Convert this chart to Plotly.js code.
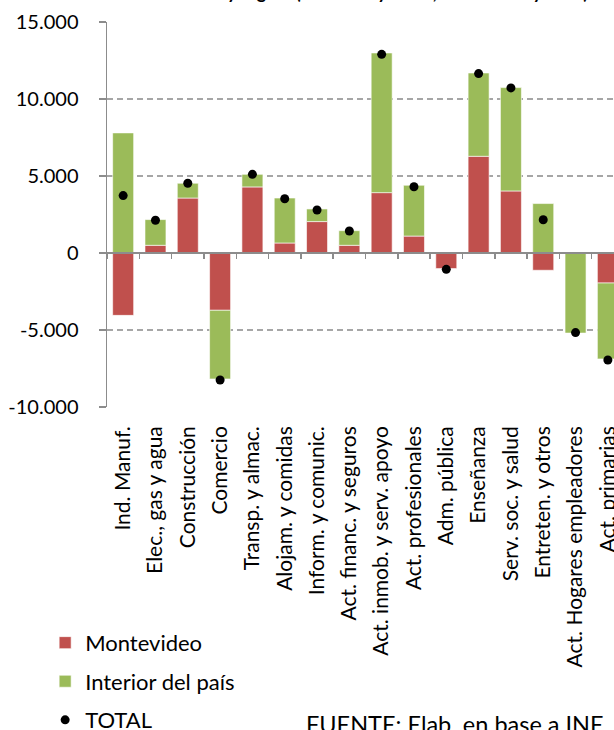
<!DOCTYPE html>
<html>
<head>
<meta charset="utf-8">
<script src="https://cdn.plot.ly/plotly-3.0.1.min.js"></script>
<style>html,body{margin:0;padding:0;background:#fff;}#chart{width:614px;height:730px;}</style>
</head>
<body>
<div id="chart"></div>
<script>
const categories = ["Ind. Manuf.", "Elec., gas y agua", "Construcción", "Comercio", "Transp. y almac.", "Alojam. y comidas", "Inform. y comunic.", "Act. financ. y seguros", "Act. inmob. y serv. apoyo", "Act. profesionales", "Adm. pública", "Enseñanza", "Serv. soc. y salud", "Entreten. y otros", "Act. Hogares empleadores", "Act. primarias"];
const montevideo = [-4050, 500, 3570, -3720, 4290, 650, 2040, 500, 3920, 1100, -1010, 6280, 4030, -1120, 0, -1950];
const interior = [7800, 1670, 960, -4460, 820, 2920, 820, 950, 9070, 3300, 0, 5410, 6710, 3210, -5200, -4930];
const total = [3730, 2130, 4530, -8250, 5110, 3520, 2790, 1430, 12900, 4300, -1060, 11650, 10720, 2160, -5170, -6950];
const yTickVals = [-10000, -5000, 0, 5000, 10000, 15000];
const yTickText = ["-10.000", "-5.000", "0", "5.000", "10.000", "15.000"];
const titleText = "Variación de cotizantes del sector y región (trimestre y 2013, acumulado y total)";
const sourceText = "FUENTE: Elab. en base a INE";

const FONT = "Lato, 'Open Sans', sans-serif";
const RED = "#C0504D", GREEN = "#9BBB59", GRID = "#A6A6A6", AXIS = "#8C8C8C";
const xr = [-0.5, 15.19];

const traces = [
  {type: "bar", name: "Montevideo", x: categories, y: montevideo, marker: {color: RED, line: {color: "rgba(255,255,255,0.6)", width: 1}}, legendgroup: "a", hoverinfo: "skip"},
  {type: "bar", name: "Interior del país", x: categories, y: interior, marker: {color: GREEN, line: {color: "rgba(255,255,255,0.6)", width: 1}}, legendgroup: "b", hoverinfo: "skip"},
  {type: "scatter", mode: "markers", name: "TOTAL", x: categories, y: total, xaxis: "x2", marker: {color: "#000", size: 9}, legendgroup: "c", hoverinfo: "skip"}
];

const layout = {
  width: 614, height: 730,
  margin: {l: 107, r: 0, t: 22, b: 323, autoexpand: false},
  paper_bgcolor: "#fff", plot_bgcolor: "#fff",
  font: {family: FONT, color: "#000", size: 18},
  barmode: "relative", bargap: 0.35,
  showlegend: true,
  legend: {x: -0.122, xanchor: "left", y: -0.558, yanchor: "top", traceorder: "grouped", tracegroupgap: 7,
           font: {family: FONT, size: 22, color: "#000"}, bgcolor: "rgba(0,0,0,0)"},
  xaxis: {type: "category", range: xr, showline: false, ticks: "", showgrid: false, zeroline: false,
          tickangle: -90, tickfont: {family: FONT, size: 21, color: "#000"}, ticklabelstandoff: 14, fixedrange: true},
  xaxis2: {type: "category", overlaying: "x", anchor: "free", position: 0.4, range: xr,
           showline: true, linecolor: AXIS, linewidth: 2, ticks: "outside", tickson: "boundaries",
           ticklen: 5, tickcolor: AXIS, tickwidth: 1.5, showticklabels: false, showgrid: false, zeroline: false, fixedrange: true},
  yaxis: {range: [-10000, 15000], tickvals: yTickVals, ticktext: yTickText,
          showgrid: true, gridcolor: GRID, gridwidth: 1.5, griddash: "6px,4px", zeroline: false,
          showline: true, linecolor: AXIS, linewidth: 1.5, ticks: "outside", ticklen: 7, tickcolor: AXIS, tickwidth: 1.5,
          ticklabelstandoff: 16, tickfont: {family: FONT, size: 20, color: "#000"}, fixedrange: true},
  annotations: [
    {xref: "paper", yref: "paper", x: 0.953, y: 1.0447, xanchor: "right", yanchor: "bottom", showarrow: false,
     text: "<b>" + titleText + "</b>", font: {family: FONT, size: 18, color: "#000"}},
    {xref: "paper", yref: "paper", x: 0.389, y: -0.783, xanchor: "left", yanchor: "top", showarrow: false,
     text: sourceText, font: {family: FONT, size: 23.5, color: "#000"}}
  ]
};

Plotly.newPlot("chart", traces, layout, {staticPlot: true, displayModeBar: false});
</script>
</body>
</html>
